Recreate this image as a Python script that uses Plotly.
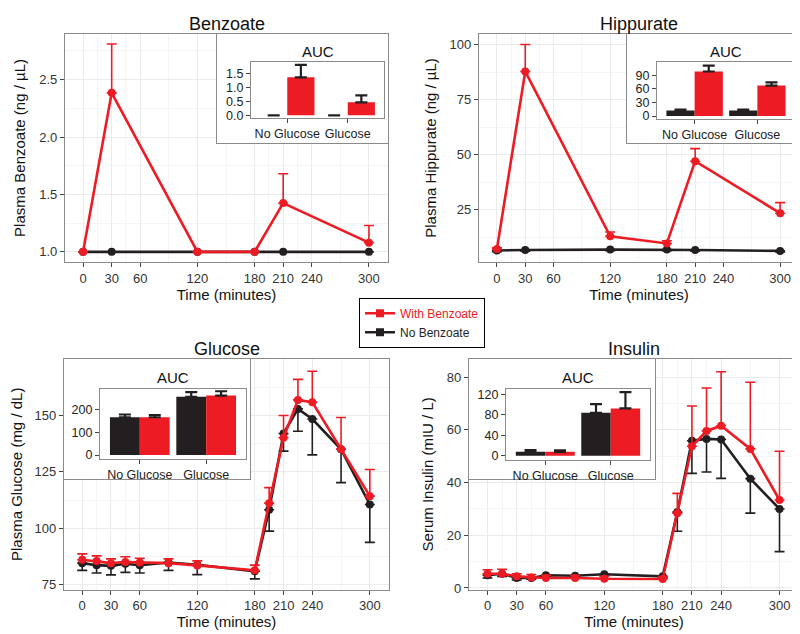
import plotly.graph_objects as go

W, H = 800, 634
RED = "#ED1C24"
BLACK = "#231F20"
FONT = "Liberation Sans, Arial, sans-serif"

# ---------------- data ----------------
time_short = [0, 30, 120, 180, 210, 300]
time_long = [0, 15, 30, 45, 60, 90, 120, 180, 195, 210, 225, 240, 270, 300]
x_ticks = [0, 30, 60, 120, 180, 210, 240, 300]
x_minor = [15, 45, 90, 150, 195, 225, 270]

# Benzoate
bz_with = [1.0, 2.385, 1.0, 1.0, 1.425, 1.08]
bz_with_err = [0.0, 0.425, 0.0, 0.0, 0.255, 0.15]
bz_no = [1.0, 1.0, 1.0, 1.0, 1.0, 1.0]
bz_no_err = [0.0, 0.0, 0.0, 0.0, 0.0, 0.0]

# Hippurate
hp_with = [7.3, 87.8, 13.0, 9.8, 47.1, 23.5]
hp_with_err = [0.5, 12.2, 2.0, 1.2, 5.7, 4.8]
hp_no = [6.6, 6.8, 7.0, 7.0, 6.8, 6.4]
hp_no_err = [0.5, 0.5, 0.5, 0.5, 0.5, 0.5]

# Glucose
gl_with = [86.0, 85.4, 84.5, 85.0, 84.8, 84.5, 83.5, 81.3, 111.1, 140.1, 156.9, 155.9, 135.0, 114.2]
gl_with_err = [2.6, 2.3, 1.9, 2.3, 1.9, 1.9, 2.0, 2.3, 6.9, 9.9, 9.1, 13.7, 14.1, 11.8]
gl_no = [84.5, 83.6, 83.3, 84.2, 83.6, 84.8, 83.8, 80.9, 108.2, 142.0, 152.9, 148.4, 135.0, 110.5]
gl_no_err = [3.2, 3.5, 4.0, 3.8, 3.5, 3.5, 4.4, 3.4, 9.5, 7.8, 9.9, 15.9, 14.8, 16.8]

# Insulin
in_with = [5.4, 5.4, 4.4, 4.0, 3.8, 3.8, 3.5, 3.4, 28.4, 53.8, 59.6, 61.6, 52.8, 33.4]
in_with_err = [1.5, 1.7, 1.0, 1.1, 1.0, 0.9, 0.9, 0.9, 7.5, 15.3, 16.3, 20.5, 25.3, 18.5]
in_no = [4.8, 5.4, 3.8, 3.8, 4.8, 4.6, 5.2, 4.4, 28.8, 55.9, 56.6, 56.4, 41.5, 30.0]
in_no_err = [1.0, 1.0, 0.8, 0.5, 0.6, 0.5, 0.5, 0.6, 7.3, 12.4, 12.6, 14.8, 13.1, 16.2]

# AUC insets
auc_groups = ["No Glucose", "Glucose"]
bz_auc_no, bz_auc_no_err = [0.0, 0.0], [0.0, 0.0]
bz_auc_with, bz_auc_with_err = [1.38, 0.47], [0.45, 0.25]
hp_auc_no, hp_auc_no_err = [12.0, 12.0], [2.0, 2.0]
hp_auc_with, hp_auc_with_err = [98.0, 67.0], [13.0, 7.0]
gl_auc_no, gl_auc_no_err = [166.0, 256.0], [12.0, 20.0]
gl_auc_with, gl_auc_with_err = [166.0, 261.0], [10.0, 19.0]
in_auc_no, in_auc_no_err = [7.8, 84.0], [3.3, 17.0]
in_auc_with, in_auc_with_err = [7.8, 92.6], [3.0, 32.0]

# ---------------- layout geometry (pixels) ----------------
def xd(a, b):
    return [a / W, b / W]

def yd(top, bottom):
    return [1 - bottom / H, 1 - top / H]

panels = [
    (57, 380, 25, 256),
    (471, 791, 25, 256),
    (56, 381, 354, 587),
    (461, 791, 354, 587),
]
boxes = [
    (209, 380, 25, 135),
    (619, 791, 25, 135),
    (56, 242, 354, 475),
    (461, 647, 354, 475),
]
insets = [
    (243, 376, 54, 110),
    (649, 787, 54, 111),
    (92, 238, 384, 455),
    (498, 642, 384, 456),
]

fig = go.Figure()

def ax_suffix(i):
    return "" if i == 1 else str(i)

main_series = [
    (time_short, bz_with, bz_with_err, bz_no, bz_no_err),
    (time_short, hp_with, hp_with_err, hp_no, hp_no_err),
    (time_long, gl_with, gl_with_err, gl_no, gl_no_err),
    (time_long, in_with, in_with_err, in_no, in_no_err),
]

for k, (t, yw, ew, yn, en) in enumerate(main_series):
    n = k + 1
    xa, ya = "x" + ax_suffix(n), "y" + ax_suffix(n)
    fig.add_trace(go.Scatter(
        x=t, y=yn, mode="lines+markers", xaxis=xa, yaxis=ya,
        line=dict(color=BLACK, width=2.6), marker=dict(color=BLACK, size=8),
        error_y=dict(type="data", symmetric=False, array=[0] * len(en), arrayminus=en,
                     color=BLACK, thickness=1.6, width=5),
        showlegend=False, hoverinfo="skip"))
    fig.add_trace(go.Scatter(
        x=t, y=yw, mode="lines+markers", xaxis=xa, yaxis=ya,
        line=dict(color=RED, width=2.6), marker=dict(color=RED, size=8),
        error_y=dict(type="data", symmetric=False, array=ew, arrayminus=[0] * len(ew),
                     color=RED, thickness=1.6, width=5),
        showlegend=False, hoverinfo="skip"))

# white inset frames (subplots 5-8), drawn over the main panels' grids
for k in range(4):
    n = 5 + k
    fig.add_trace(go.Scatter(x=[None], y=[None], xaxis="x" + str(n), yaxis="y" + str(n),
                             showlegend=False, hoverinfo="skip"))

auc_series = [
    (bz_auc_no, bz_auc_no_err, bz_auc_with, bz_auc_with_err),
    (hp_auc_no, hp_auc_no_err, hp_auc_with, hp_auc_with_err),
    (gl_auc_no, gl_auc_no_err, gl_auc_with, gl_auc_with_err),
    (in_auc_no, in_auc_no_err, in_auc_with, in_auc_with_err),
]
for k, (vn, en, vw, ew) in enumerate(auc_series):
    n = 9 + k
    for vals, errs, col in ((vn, en, BLACK), (vw, ew, RED)):
        fig.add_trace(go.Bar(
            x=auc_groups, y=vals, xaxis="x" + str(n), yaxis="y" + str(n),
            marker=dict(color=col, line=dict(width=0)),
            error_y=dict(type="data", symmetric=False, array=errs, arrayminus=[0] * len(errs),
                         color=BLACK, thickness=2.2, width=6),
            showlegend=False, hoverinfo="skip"))

# legend traces
fig.add_trace(go.Scatter(x=[None], y=[None], mode="lines+markers",
                         name="<span style='color:%s'>With Benzoate</span>" % RED,
                         line=dict(color=RED, width=2.5),
                         marker=dict(color=RED, symbol="square", size=8)))
fig.add_trace(go.Scatter(x=[None], y=[None], mode="lines+markers",
                         name="No Benzoate",
                         line=dict(color=BLACK, width=2.5),
                         marker=dict(color=BLACK, symbol="square", size=8)))

BORDER = "#8a8a8a"
TICKC = "#444444"
GRID = "#EBEBEB"
GRID_MINOR = "#F5F5F5"

y_main = [
    dict(range=[0.91, 2.9], tickvals=[1.0, 1.5, 2.0, 2.5], ticktext=["1.0", "1.5", "2.0", "2.5"],
         minor_vals=[1.25, 1.75, 2.25, 2.75], title="Plasma Benzoate (ng / µL)"),
    dict(range=[1.3, 104.9], tickvals=[25, 50, 75, 100], ticktext=["25", "50", "75", "100"],
         minor_vals=[12.5, 37.5, 62.5, 87.5], title="Plasma Hippurate (ng / µL)"),
    dict(range=[72.8, 175.0], tickvals=[75, 100, 125, 150], ticktext=["75", "100", "125", "150"],
         minor_vals=[87.5, 112.5, 137.5, 162.5], title="Plasma Glucose (mg / dL)"),
    dict(range=[-0.6, 86.9], tickvals=[0, 20, 40, 60, 80], ticktext=["0", "20", "40", "60", "80"],
         minor_vals=[10, 30, 50, 70], title="Serum Insulin (mIU / L)"),
]

layout = dict(
    width=W, height=H, margin=dict(l=0, r=0, t=0, b=0),
    paper_bgcolor="white", plot_bgcolor="white",
    font=dict(family=FONT, color="#222"),
    barmode="group", bargap=0.1, bargroupgap=0.0,
    showlegend=True,
    legend=dict(x=351 / W, y=1 - 292 / H, xanchor="left", yanchor="top",
                bordercolor="#000", borderwidth=1, bgcolor="white",
                font=dict(size=12, family=FONT, color=BLACK),
                tracegroupgap=0, itemwidth=30),
)

for k in range(4):
    n = k + 1
    s = ax_suffix(n)
    x0, x1, yt, yb = panels[k]
    ym = y_main[k]
    layout["xaxis" + s] = dict(
        domain=xd(x0, x1), anchor="y" + s, range=[-19, 320],
        tickvals=x_ticks, ticktext=[str(v) for v in x_ticks],
        showline=True, mirror=True, linecolor=BORDER, linewidth=1.2,
        ticks="outside", ticklen=4, tickcolor=TICKC, tickwidth=1,
        tickfont=dict(size=13, color="#333"),
        showgrid=True, gridcolor=GRID, gridwidth=1, zeroline=False,
        minor=dict(tickvals=x_minor, showgrid=True, gridcolor=GRID_MINOR, gridwidth=0.8),
        title=dict(text="Time (minutes)", font=dict(size=15, color="#111"), standoff=2),
    )
    layout["yaxis" + s] = dict(
        domain=yd(yt, yb), anchor="x" + s, range=ym["range"],
        tickvals=ym["tickvals"], ticktext=ym["ticktext"],
        showline=True, mirror=True, linecolor=BORDER, linewidth=1.2,
        ticks="outside", ticklen=4, tickcolor=TICKC, tickwidth=1,
        tickfont=dict(size=13, color="#333"),
        showgrid=True, gridcolor=GRID, gridwidth=1, zeroline=False,
        minor=dict(tickvals=ym["minor_vals"], showgrid=True, gridcolor=GRID_MINOR, gridwidth=0.8),
        title=dict(text=ym["title"], font=dict(size=15, color="#111"), standoff=9),
    )

for k in range(4):
    n = 5 + k
    x0, x1, yt, yb = boxes[k]
    common = dict(showline=True, mirror=True, linecolor=BORDER, linewidth=1.2,
                  showgrid=False, zeroline=False, showticklabels=False, ticks="",
                  range=[0, 1], fixedrange=True)
    layout["xaxis" + str(n)] = dict(domain=xd(x0, x1), anchor="y" + str(n), **common)
    layout["yaxis" + str(n)] = dict(domain=yd(yt, yb), anchor="x" + str(n), **common)

inset_y = [
    dict(range=[-0.09, 1.92], tickvals=[0.0, 0.5, 1.0, 1.5], ticktext=["0.0", "0.5", "1.0", "1.5"]),
    dict(range=[-6, 118], tickvals=[0, 30, 60, 90], ticktext=["0", "30", "60", "90"]),
    dict(range=[-17, 291], tickvals=[0, 100, 200], ticktext=["0", "100", "200"]),
    dict(range=[-8, 131], tickvals=[0, 40, 80, 120], ticktext=["0", "40", "80", "120"]),
]
for k in range(4):
    n = 9 + k
    x0, x1, yt, yb = insets[k]
    iy = inset_y[k]
    layout["xaxis" + str(n)] = dict(
        domain=xd(x0, x1), anchor="y" + str(n), type="category", range=[-0.6, 1.6],
        showline=True, mirror=True, linecolor=BORDER, linewidth=1.2,
        ticks="outside", ticklen=4, tickcolor=TICKC, tickwidth=1.2,
        tickfont=dict(size=12.5, color="#222"), showgrid=False, zeroline=False)
    layout["yaxis" + str(n)] = dict(
        domain=yd(yt, yb), anchor="x" + str(n), range=iy["range"],
        tickvals=iy["tickvals"], ticktext=iy["ticktext"],
        showline=True, mirror=True, linecolor=BORDER, linewidth=1.2,
        ticks="outside", ticklen=4, tickcolor=TICKC, tickwidth=1.2,
        tickfont=dict(size=12.5, color="#222"), showgrid=False, zeroline=False)

titles = ["Benzoate", "Hippurate", "Glucose", "Insulin"]
annotations = []
for k in range(4):
    x0, x1, yt, yb = panels[k]
    annotations.append(dict(text=titles[k], xref="paper", yref="paper",
                            x=(x0 + x1) / 2 / W, y=1 - (yt - 10) / H,
                            xanchor="center", yanchor="middle", showarrow=False,
                            font=dict(size=18, color="#111", family=FONT)))
    ix0, ix1, iyt, iyb = insets[k]
    annotations.append(dict(text="AUC", xref="paper", yref="paper",
                            x=(ix0 + ix1) / 2 / W, y=1 - (iyt - 11) / H,
                            xanchor="center", yanchor="middle", showarrow=False,
                            font=dict(size=15, color="#111", family=FONT)))
layout["annotations"] = annotations

fig.update_layout(**layout)
fig.write_html("out.html")
